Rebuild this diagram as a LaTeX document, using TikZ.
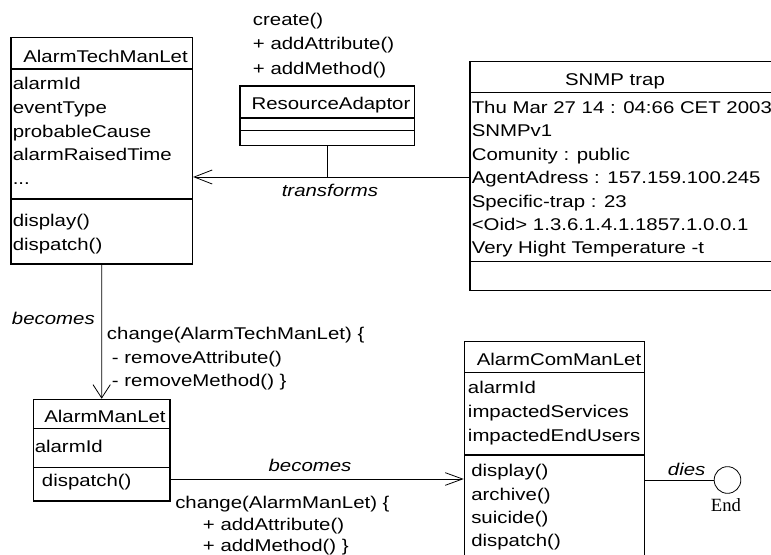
\documentclass[tikz,border=0pt]{standalone}
\usepackage{fontspec}
\setmainfont{Liberation Sans}[FakeStretch=1.2]
\newfontfamily\labelserif{Liberation Serif}
\usetikzlibrary{arrows.meta,fit}

\begin{document}
\begin{tikzpicture}[x=0.75pt, y=-0.75pt,
  font=\fontsize{12.75}{15}\selectfont,
  box/.style={draw, line width=0.9pt, inner sep=0pt},
  sep/.style={line width=0.9pt},
  conn/.style={line width=0.6pt},
  txt/.style={inner sep=0pt, anchor=base west},
  ttl/.style={inner sep=0pt, anchor=base},
  lbl/.style={inner sep=0pt, anchor=base, font=\fontsize{12.75}{15}\selectfont\itshape},
]
\path[use as bounding box] (0,0) rectangle (771,555);
\clip (0,0) rectangle (771,555);

% ---------- AlarmTechManLet ----------
\node[box, fit={(11,37.5) (192.5,264)}] (atm) {};
\draw[sep] (11,69) -- (192.5,69) (11,199) -- (192.5,199);
\node[ttl] (atm-name) at (105.5,62.3) {AlarmTechManLet};
\node[txt] (atm-a1) at (12.5,90)    {alarmId};
\node[txt] (atm-a2) at (12.5,113.6) {eventType};
\node[txt] (atm-a3) at (12.5,137.2) {probableCause};
\node[txt] (atm-a4) at (12.5,160.8) {alarmRaisedTime};
\node[txt] (atm-a5) at (12.5,184.4) {...};
\node[txt] (atm-m1) at (12.5,227)   {display()};
\node[txt] (atm-m2) at (12.5,250.6) {dispatch()};

% ---------- ResourceAdaptor ----------
\node[txt] (ra-n1) at (252.7,25.5) {create()};
\node[txt] (ra-n2) at (252.7,50)   {+ addAttribute()};
\node[txt] (ra-n3) at (252.7,74.5) {+ addMethod()};
\node[box, fit={(240,86) (414.3,145.7)}] (ra) {};
\draw[sep] (240,118) -- (414.3,118) (240,130.7) -- (414.3,130.7);
\node[ttl] (ra-name) at (331,110) {ResourceAdaptor};

% ---------- SNMP trap ----------
\node[box, fit={(470,61.7) (800,290.7)}] (snmp) {};
\draw[sep] (470,92.7) -- (800,92.7) (470,261.7) -- (800,261.7);
\node[ttl] (snmp-name) at (615,86) {SNMP trap};
\node[txt] (snmp-1) at (471.5,113.5) {Thu Mar 27 14 : 04:66 CET 2003};
\node[txt] (snmp-2) at (471.5,136.9) {SNMPv1};
\node[txt] (snmp-3) at (471.5,160.3) {Comunity : public};
\node[txt] (snmp-4) at (471.5,183.7) {AgentAdress : 157.159.100.245};
\node[txt] (snmp-5) at (471.5,207.1) {Specific-trap : 23};
\node[txt] (snmp-6) at (471.5,230.5) {<Oid> 1.3.6.1.4.1.1857.1.0.0.1};
\node[txt] (snmp-7) at (471.5,253.9) {Very Hight Temperature -t};

% ---------- AlarmManLet ----------
\node[box, fit={(33.3,399.3) (170,501)}] (am) {};
\draw[sep] (33.3,428.3) -- (170,428.3) (33.3,467.3) -- (170,467.3);
\node[ttl] (am-name) at (105,422.7) {AlarmManLet};
\node[txt] (am-a1) at (34.5,452.7) {alarmId};
\node[txt] (am-m1) at (41.7,486.5) {dispatch()};

% ---------- AlarmComManLet ----------
\node[box, fit={(464.3,341.7) (644.3,600)}] (acm) {};
\draw[sep] (464.3,372.7) -- (644.3,372.7) (464.3,455) -- (644.3,455);
\node[ttl] (acm-name) at (559,365.7) {AlarmComManLet};
\node[txt] (acm-a1) at (467.7,394)   {alarmId};
\node[txt] (acm-a2) at (467.7,417.6) {impactedServices};
\node[txt] (acm-a3) at (467.7,441.2) {impactedEndUsers};
\node[txt] (acm-m1) at (471,477)   {display()};
\node[txt] (acm-m2) at (471,500.3) {archive()};
\node[txt] (acm-m3) at (471,523.6) {suicide()};
\node[txt] (acm-m4) at (471,546.9) {dispatch()};

% ---------- end state ----------
\node[draw, circle, line width=0.6pt, minimum size=20pt, inner sep=0pt] (end) at (727.5,480) {};
\node[ttl, font=\labelserif\fontsize{14}{16}\selectfont] (end-label) at (726,512) {End};

% ---------- connectors ----------
\coordinate (tr) at (ra.south |- 0,177);
\draw[conn] (ra.south) -- (tr);
\draw[conn, -{Straight Barb[length=13.5pt, width=10.5pt]}] (snmp.west |- tr) -- (atm.east |- tr);
\node[lbl] (tr-label) at (330,196.5) {transforms};

\draw[conn, -{Straight Barb[length=10pt, width=13pt]}] (atm.south) -- (am.north);
\node[lbl, anchor=base east] (becomes-1) at (95,325) {becomes};
\node[txt] (chg1-1) at (106.7,340)   {change(AlarmTechManLet) \{};
\node[txt] (chg1-2) at (111.7,363.5) {- removeAttribute()};
\node[txt] (chg1-3) at (111.7,387)   {- removeMethod() \}};

\coordinate (bc) at (am.east |- 0,479);
\draw[conn, -{Straight Barb[length=13pt, width=9.5pt]}] (bc) -- (acm.west |- bc);
\node[lbl] (becomes-2) at (310,471.5) {becomes};
\node[txt] (chg2-1) at (175,508.5)   {change(AlarmManLet) \{};
\node[txt] (chg2-2) at (202.7,530.5) {+ addAttribute()};
\node[txt] (chg2-3) at (202.7,551.5) {+ addMethod() \}};

\draw[conn] (acm.east |- end.west) -- (end.west);
\node[lbl] (dies) at (686.7,475.5) {dies};
\end{tikzpicture}
\end{document}
